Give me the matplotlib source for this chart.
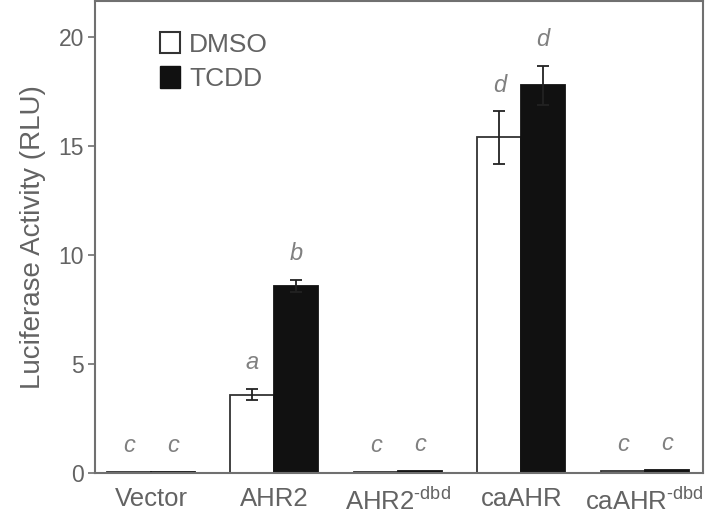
import numpy as np
import matplotlib
matplotlib.use("Agg")
import matplotlib.pyplot as plt
from matplotlib.patches import Patch

plt.rcParams['font.family'] = ['Liberation Sans', 'DejaVu Sans']
plt.rcParams['mathtext.fontset'] = 'custom'
plt.rcParams['mathtext.rm'] = 'Liberation Sans'

# DATA
groups = ["Vector", "AHR2", "AHR2$^{\\mathregular{\u2010dbd}}$", "caAHR", "caAHR$^{\\mathregular{\u2010dbd}}$"]
dmso = [0.05, 3.6, 0.06, 15.4, 0.1]
dmso_err = [0.0, 0.25, 0.0, 1.2, 0.0]
tcdd = [0.05, 8.6, 0.1, 17.8, 0.15]
tcdd_err = [0.0, 0.28, 0.0, 0.9, 0.0]
dmso_letters = ["c", "a", "c", "d", "c"]
tcdd_letters = ["c", "b", "c", "d", "c"]

text_grey = "#636363"
spine_grey = "#707070"

fig = plt.figure(figsize=(7.2, 5.19), dpi=100)
ax = fig.add_axes([0.132, 0.0886, 0.844, 0.909])

x = np.arange(len(groups))
w = 0.356

ax.bar(x - w / 2, dmso, w, color="white", edgecolor="#333333", linewidth=1.3)
ax.bar(x + w / 2, tcdd, w, color="#111111", edgecolor="#111111", linewidth=1.3)

# error bars only where there is an error
for xi, v, e in zip(x - w / 2, dmso, dmso_err):
    if e > 0:
        ax.errorbar(xi, v, yerr=e, fmt="none", ecolor="#222222", elinewidth=1.3, capsize=4, capthick=1.3)
for xi, v, e in zip(x + w / 2, tcdd, tcdd_err):
    if e > 0:
        ax.errorbar(xi, v, yerr=e, fmt="none", ecolor="#222222", elinewidth=1.3, capsize=4, capthick=1.3)

# significance letters
for xi, v, e, t in zip(x - w / 2, dmso, dmso_err, dmso_letters):
    ax.text(xi, v + e + 1.2, t, ha="center", va="center", fontsize=17, style="italic", color="#808080")
for xi, v, e, t in zip(x + w / 2, tcdd, tcdd_err, tcdd_letters):
    ax.text(xi, v + e + 1.2, t, ha="center", va="center", fontsize=17, style="italic", color="#808080")

ax.set_xlim(-0.453, 4.47)
ax.set_ylim(0, 21.65)
ax.set_yticks([0, 5, 10, 15, 20])
ax.set_xticks(x)
ax.set_xticklabels(groups)
ax.tick_params(axis="x", length=0, pad=10, labelsize=18.5, labelcolor=text_grey)
ax.tick_params(axis="y", length=5, width=1.2, color=spine_grey, pad=3, labelsize=16.5, labelcolor=text_grey)
for s in ax.spines.values():
    s.set_color(spine_grey)
    s.set_linewidth(1.5)

ax.set_ylabel("Luciferase Activity (RLU)", fontsize=20, color=text_grey, labelpad=9)

handles = [Patch(facecolor="white", edgecolor="#333333", linewidth=1.5, label="DMSO"),
           Patch(facecolor="#111111", edgecolor="#111111", label="TCDD")]
ax.legend(handles=handles, loc="upper left", bbox_to_anchor=(0.077, 0.975), frameon=False,
          fontsize=19, handlelength=0.75, handleheight=0.9, handletextpad=0.35, labelspacing=0.35,
          labelcolor=text_grey, borderpad=0.2)

fig.savefig("out.png", dpi=100)
